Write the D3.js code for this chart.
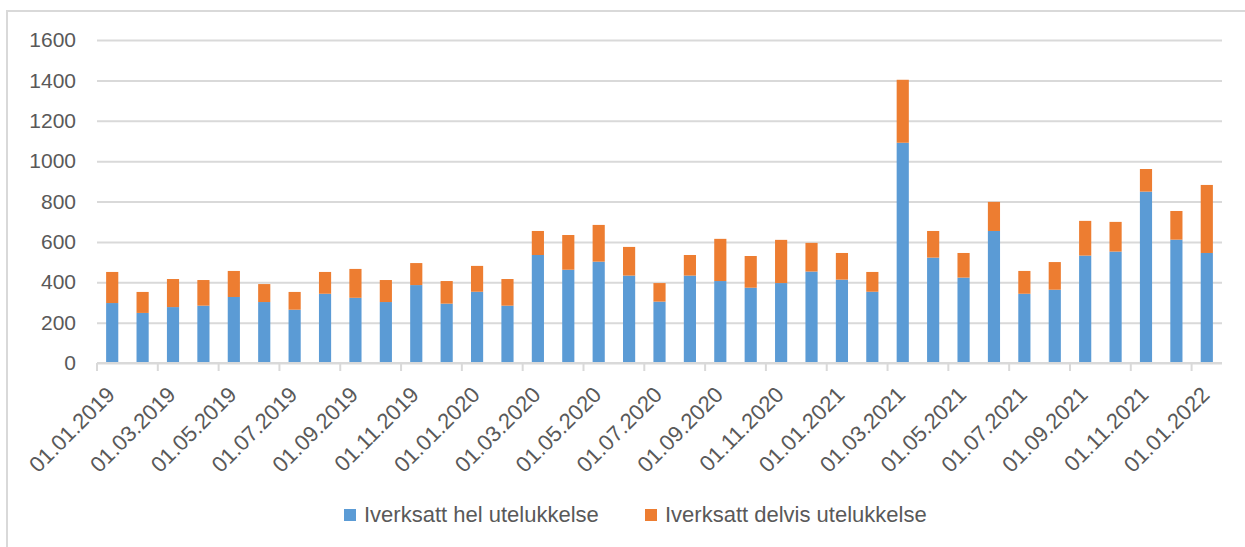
<!DOCTYPE html>
<html>
<head>
<meta charset="utf-8">
<script src="https://cdn.jsdelivr.net/npm/d3@7"></script>
<style>
	body { margin: 0; background: #fff; }
	svg { display: block; }
	text { font-family: "Liberation Sans", Arial, sans-serif; fill: #595959; }
</style>
</head>
<body>
<script>
var months = ['01.01.2019','01.02.2019','01.03.2019','01.04.2019','01.05.2019','01.06.2019',
			'01.07.2019','01.08.2019','01.09.2019','01.10.2019','01.11.2019','01.12.2019',
			'01.01.2020','01.02.2020','01.03.2020','01.04.2020','01.05.2020','01.06.2020',
			'01.07.2020','01.08.2020','01.09.2020','01.10.2020','01.11.2020','01.12.2020',
			'01.01.2021','01.02.2021','01.03.2021','01.04.2021','01.05.2021','01.06.2021',
			'01.07.2021','01.08.2021','01.09.2021','01.10.2021','01.11.2021','01.12.2021',
			'01.01.2022'];

// Iverksatt hel utelukkelse
var hel = [297,248,277,284,327,302,264,343,323,302,386,294,
			353,284,535,462,502,433,304,433,406,373,396,453,
			413,353,1091,522,423,654,343,363,532,552,849,611,
			545];

// Iverksatt delvis utelukkelse
var delvis = [154,104,139,127,129,89,88,108,143,109,109,112,
			128,132,119,172,182,142,92,102,209,157,214,142,
			132,98,312,132,122,144,113,137,172,147,112,142,
			337];

var seriesNames = ['Iverksatt hel utelukkelse','Iverksatt delvis utelukkelse'];
var seriesColors = ['#5b9bd5','#ed7d31'];
var yTicks = [0,200,400,600,800,1000,1200,1400,1600];

var width = 1245, height = 547;
var plotLeft = 97, plotRight = 1222, plotTop = 40, plotBottom = 363;

var svg = d3.select('body')
			.append('svg')
			.attr('width',width)
			.attr('height',height);

// chart border
svg.append('rect')
	.attr('x',7)
	.attr('y',11)
	.attr('width',width)
	.attr('height',height)
	.attr('fill','none')
	.attr('stroke','#d9d9d9')
	.attr('stroke-width',2);

var x = d3.scaleBand()
			.domain(months)
			.range([plotLeft,plotRight])
			.paddingInner(0.6)
			.paddingOuter(0.3);

var y = d3.scaleLinear()
			.domain([0,1600])
			.range([plotBottom,plotTop]);

// gridlines + y labels
var yAxis = d3.axisLeft(y)
			.tickValues(yTicks)
			.tickFormat(d3.format('d'))
			.tickSize(-(plotRight-plotLeft))
			.tickPadding(21);

svg.append('g')
	.attr('transform','translate('+plotLeft+',0)')
	.call(yAxis)
	.call(g=>g.select('.domain').remove())
	.call(g=>g.selectAll('line').attr('stroke','#d9d9d9').attr('stroke-width',2))
	.call(g=>g.selectAll('text').attr('font-size','21px').attr('font-family','"Liberation Sans", Arial, sans-serif').attr('fill','#595959'));

// stacked bars
var rows = months.map((m,i)=>({month:m,hel:hel[i],delvis:delvis[i]}));
var stack = d3.stack().keys(['hel','delvis'])(rows);

svg.append('g')
	.selectAll('g')
	.data(stack)
	.enter()
	.append('g')
	.attr('fill',(d,i)=>seriesColors[i])
	.selectAll('rect')
	.data(d=>d)
	.enter()
	.append('rect')
	.attr('x',d=>x(d.data.month))
	.attr('width',x.bandwidth())
	.attr('y',d=>y(d[1]))
	.attr('height',d=>y(d[0])-y(d[1]));

// x axis line
svg.append('line')
	.attr('x1',plotLeft)
	.attr('x2',plotRight)
	.attr('y1',y(0))
	.attr('y2',y(0))
	.attr('stroke','#d9d9d9')
	.attr('stroke-width',2);

var step = x.step();
var labelMonths = months.filter((m,i)=>i%2==0);

// ticks at category boundaries every 2 months
svg.append('g')
	.selectAll('line')
	.data(labelMonths)
	.enter()
	.append('line')
	.attr('x1',d=>x(d)-step*0.3)
	.attr('x2',d=>x(d)-step*0.3)
	.attr('y1',y(0))
	.attr('y2',y(0)+8)
	.attr('stroke','#d9d9d9')
	.attr('stroke-width',2);

svg.append('g')
	.selectAll('text')
	.data(labelMonths)
	.enter()
	.append('text')
	.attr('text-anchor','end')
	.attr('font-size','22px')
	.attr('transform',d=>'translate('+(x(d)+x.bandwidth()/2+4)+',396) rotate(-45)')
	.text(d=>d);

// legend
var legendX = [344,645];
var legend = svg.append('g')
				.selectAll('g')
				.data(seriesNames)
				.enter()
				.append('g')
				.attr('transform',(d,i)=>'translate('+legendX[i]+',0)');

legend.append('rect')
	.attr('x',0)
	.attr('y',509)
	.attr('width',12)
	.attr('height',12)
	.attr('fill',(d,i)=>seriesColors[i]);

legend.append('text')
	.attr('x',20)
	.attr('y',522)
	.attr('font-size','22px')
	.text(d=>d);
</script>
</body>
</html>
